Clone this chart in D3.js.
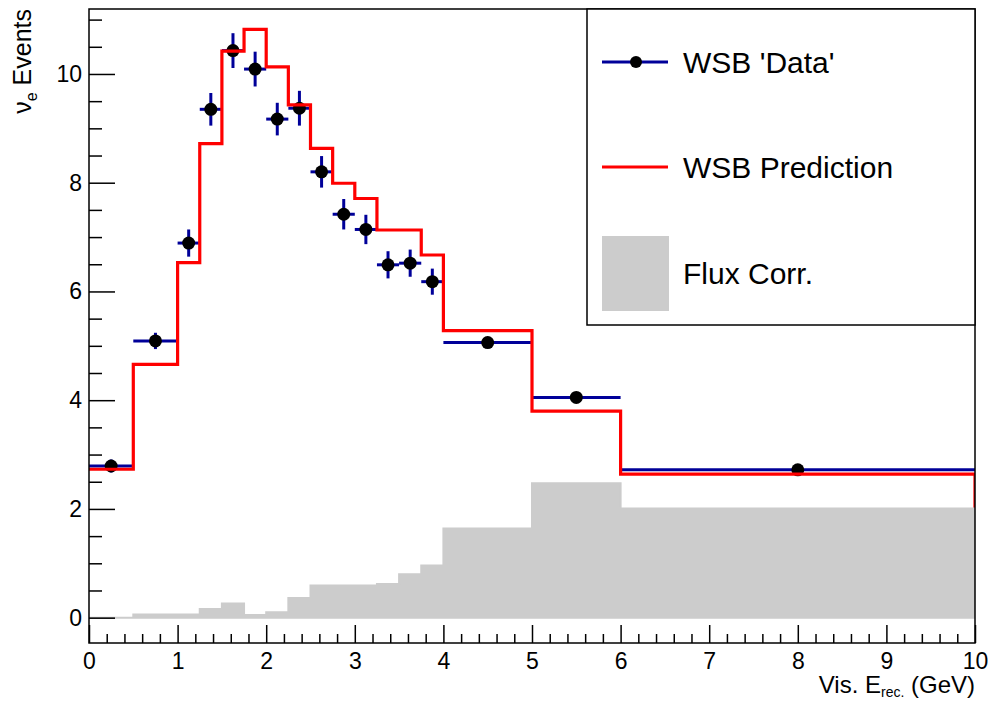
<!DOCTYPE html>
<html>
<head>
<meta charset="utf-8">
<script src="https://cdn.jsdelivr.net/npm/d3@7/dist/d3.min.js"></script>
<style>
  html, body { margin: 0; padding: 0; background: #fff; }
  svg { display: block; font-family: "Liberation Sans", Arial, Helvetica, sans-serif; }
</style>
</head>
<body>
<svg id="chart" width="988" height="701"></svg>
<script>
// Variable-width energy bins (GeV)
const binEdges = [0, 0.5, 1, 1.25, 1.5, 1.75, 2, 2.25, 2.5, 2.75, 3, 3.25, 3.5, 3.75, 4, 5, 6, 10];

// WSB 'Data' per bin and its statistical error
const dataValues = [2.79, 5.09, 6.89, 9.35, 10.43, 10.09, 9.17, 9.37, 8.20, 7.42, 7.14, 6.49, 6.52, 6.18, 5.06, 4.05, 2.72];
const dataErrors = [0.12, 0.15, 0.25, 0.30, 0.32, 0.32, 0.30, 0.32, 0.29, 0.28, 0.27, 0.25, 0.25, 0.24, 0.10, 0.08, 0.05];

// WSB Prediction per bin
const predValues = [2.73, 4.66, 6.53, 8.72, 10.42, 10.82, 10.13, 9.43, 8.63, 7.99, 7.71, 7.13, 7.13, 6.67, 5.28, 3.80, 2.64];

// Flux correction per bin
const fluxValues = [0.0, 0.06, 0.06, 0.16, 0.26, 0.05, 0.10, 0.36, 0.59, 0.59, 0.59, 0.62, 0.80, 0.96, 1.64, 2.47, 2.01];

// Axis ticks
const xMajorTicks = [0, 1, 2, 3, 4, 5, 6, 7, 8, 9, 10];
const yMajorTicks = [0, 2, 4, 6, 8, 10];

const legendLabels = ["WSB 'Data'", "WSB Prediction", "Flux Corr."];

const colBlue = "#000099", colRed = "#ff0000", colGray = "#cccccc";

const frame = { left: 89, right: 975, top: 9, bottom: 643 };
const svg = d3.select("#chart");
svg.append("rect").attr("width", 988).attr("height", 701).attr("fill", "#fff");

const x = d3.scaleLinear().domain([0, 10]).range([frame.left, frame.right]);
const y = d3.scaleLinear().domain([-0.466, 11.195]).range([frame.bottom, frame.top]);

svg.append("clipPath").attr("id", "plotclip")
  .append("rect").attr("x", frame.left).attr("y", frame.top)
  .attr("width", frame.right - frame.left).attr("height", frame.bottom - frame.top);

const plot = svg.append("g").attr("clip-path", "url(#plotclip)");

const bins = dataValues.map((v, i) => ({
  lo: binEdges[i], hi: binEdges[i + 1], mid: (binEdges[i] + binEdges[i + 1]) / 2,
  v, e: dataErrors[i], p: predValues[i], f: fluxValues[i]
}));

// Data: horizontal bin-width bars, vertical error bars, markers
const dg = plot.append("g");
dg.selectAll("line.h").data(bins).join("line").attr("class", "h")
  .attr("x1", d => x(d.lo)).attr("x2", d => x(d.hi))
  .attr("y1", d => y(d.v)).attr("y2", d => y(d.v))
  .attr("stroke", colBlue).attr("stroke-width", 3);
dg.selectAll("line.v").data(bins).join("line").attr("class", "v")
  .attr("x1", d => x(d.mid)).attr("x2", d => x(d.mid))
  .attr("y1", d => y(d.v - d.e)).attr("y2", d => y(d.v + d.e))
  .attr("stroke", colBlue).attr("stroke-width", 3);
dg.selectAll("circle").data(bins).join("circle")
  .attr("cx", d => x(d.mid)).attr("cy", d => y(d.v)).attr("r", 6.5)
  .attr("fill", "#000");

// Prediction step histogram
const predPts = bins.map(d => [d.lo, d.p]);
predPts.push([10, predValues[predValues.length - 1]], [10, 0]);
const stepLine = d3.line().x(d => x(d[0])).y(d => y(d[1])).curve(d3.curveStepAfter);
plot.append("path").attr("d", stepLine(predPts))
  .attr("fill", "none").attr("stroke", colRed).attr("stroke-width", 3.2)
  .attr("stroke-linejoin", "miter");

// Flux correction filled histogram
const fluxPts = bins.map(d => [d.lo, d.f]);
fluxPts.push([10, fluxValues[fluxValues.length - 1]]);
const fluxArea = d3.area().x(d => x(d[0])).y0(y(0)).y1(d => y(d[1])).curve(d3.curveStepAfter);
plot.append("path").attr("d", fluxArea(fluxPts))
  .attr("fill", colGray).attr("stroke", colGray).attr("stroke-width", 2);

// Axes
const xMinor = d3.range(0, 10.001, 0.2).filter(v => Math.abs(v - Math.round(v)) > 1e-6);
const yMinor = d3.range(0.5, 11.01, 0.5).filter(v => Math.abs(v % 2) > 1e-6);

const gx = svg.append("g").attr("transform", `translate(0,${frame.bottom})`)
  .call(d3.axisBottom(x).tickValues(xMajorTicks).tickFormat(d3.format("d"))
    .tickSizeInner(-18).tickSizeOuter(0).tickPadding(10));
const gxm = svg.append("g").attr("transform", `translate(0,${frame.bottom})`)
  .call(d3.axisBottom(x).tickValues(xMinor).tickFormat("").tickSizeInner(-9).tickSizeOuter(0));
const gy = svg.append("g").attr("transform", `translate(${frame.left},0)`)
  .call(d3.axisLeft(y).tickValues(yMajorTicks).tickFormat(d3.format("d"))
    .tickSizeInner(-26).tickSizeOuter(0).tickPadding(7));
const gym = svg.append("g").attr("transform", `translate(${frame.left},0)`)
  .call(d3.axisLeft(y).tickValues(yMinor).tickFormat("").tickSizeInner(-13).tickSizeOuter(0));

[gx, gxm, gy, gym].forEach(g => {
  g.select(".domain").remove();
  g.selectAll(".tick line").attr("stroke", "#000").attr("stroke-width", 1.5);
  g.selectAll(".tick text").attr("fill", "#000").attr("font-size", 23)
    .attr("font-family", "Liberation Sans, Arial, sans-serif");
});

// Frame
svg.append("rect").attr("x", frame.left).attr("y", frame.top)
  .attr("width", frame.right - frame.left).attr("height", frame.bottom - frame.top)
  .attr("fill", "none").attr("stroke", "#000").attr("stroke-width", 1.5);

// Axis titles
const xt = svg.append("text").attr("x", frame.right).attr("y", 693)
  .attr("text-anchor", "end").attr("font-size", 24).attr("fill", "#000");
xt.append("tspan").text("Vis. E");
xt.append("tspan").attr("font-size", 14).attr("dy", 4).text("rec.");
xt.append("tspan").attr("dy", -4).text(" (GeV)");

const yt = svg.append("text").attr("transform", `translate(31,${frame.top}) rotate(-90)`)
  .attr("text-anchor", "end").attr("font-size", 25).attr("fill", "#000");
yt.append("tspan").text("ν");
yt.append("tspan").attr("font-size", 16).attr("dy", 6).text("e");
yt.append("tspan").attr("dy", -6).text(" Events");

// Legend
const lg = svg.append("g");
lg.append("rect").attr("x", 587).attr("y", frame.top).attr("width", frame.right - 587).attr("height", 316)
  .attr("fill", "#fff").attr("stroke", "#000").attr("stroke-width", 1.5);
const rowsY = [62, 167, 273];
lg.append("line").attr("x1", 602).attr("x2", 668).attr("y1", rowsY[0]).attr("y2", rowsY[0])
  .attr("stroke", colBlue).attr("stroke-width", 3);
lg.append("circle").attr("cx", 636).attr("cy", rowsY[0]).attr("r", 6).attr("fill", "#000");
lg.append("line").attr("x1", 602).attr("x2", 668).attr("y1", rowsY[1]).attr("y2", rowsY[1])
  .attr("stroke", colRed).attr("stroke-width", 3);
lg.append("rect").attr("x", 602).attr("y", 236).attr("width", 67).attr("height", 75).attr("fill", colGray);
lg.selectAll("text").data(legendLabels).join("text")
  .attr("x", 683).attr("y", (d, i) => rowsY[i]).attr("dy", "0.36em")
  .attr("font-size", 30).attr("fill", "#000").text(d => d);
</script>
</body>
</html>
